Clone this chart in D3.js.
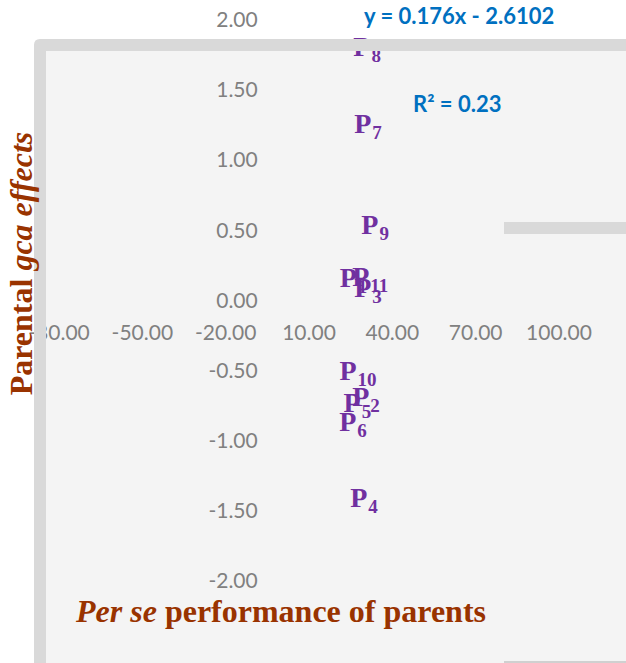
<!DOCTYPE html>
<html>
<head>
<meta charset="utf-8">
<script src="https://cdn.jsdelivr.net/npm/d3@7"></script>
<style>
  html, body { margin: 0; padding: 0; background: #ffffff; }
  svg { display: block; }
</style>
</head>
<body>
<svg id="chart" width="626" height="663"></svg>
<script>
// Parents and their (per se performance, gca effect) pairs
const parentIds = [1, 2, 3, 4, 5, 6, 7, 8, 9, 10, 11];
const perSe     = [26.2, 30.7, 31.4, 30.0, 27.6, 26.0, 31.4, 31.1, 34.0, 27.8, 32.2];
const gcaEffect = [0.15, -0.70, 0.08, -1.42, -0.74, -0.88, 1.25, 1.80, 0.53, -0.51, 0.16];

// Axis ticks
const xTicks = [-80, -50, -20, 10, 40, 70, 100];
const yTicks = [2, 1.5, 1, 0.5, 0, -0.5, -1, -1.5, -2];

// Trendline annotation
const trendEquation = "y = 0.176x - 2.6102";
const trendR2 = "R² = 0.23";

const svg = d3.select("#chart");
const W = 626, H = 663;

const x = d3.scaleLinear().domain([-80, 100]).range([58.5, 558.5]);
const y = d3.scaleLinear().domain([-2, 2]).range([580.5, 19.5]);

const frameGray = "#d9d9d9";
const plotBg = "#f4f4f4";
const tickColor = "#808080";
const titleColor = "#993300";
const pointColor = "#7030a0";
const trendColor = "#0070c0";

// Plot-area background
svg.append("rect")
  .attr("x", 46).attr("y", 51)
  .attr("width", W - 46).attr("height", H - 51)
  .attr("fill", plotBg);

// Axes (labels only, no lines)
const fmt = d => d.toFixed(2);

const xAxis = svg.append("g")
  .attr("transform", `translate(0,${y(0)})`)
  .call(d3.axisBottom(x).tickValues(xTicks).tickFormat(fmt).tickSize(0).tickPadding(25));
xAxis.select(".domain").remove();
xAxis.selectAll("text")
  .attr("dy", "0.71em")
  .attr("font-family", "Lato, 'Open Sans', sans-serif")
  .attr("font-size", 21)
  .attr("fill", tickColor);

const yAxis = svg.append("g")
  .attr("transform", `translate(${x(0)},0)`)
  .call(d3.axisLeft(y).tickValues(yTicks).tickFormat(fmt).tickSize(0).tickPadding(23));
yAxis.select(".domain").remove();
yAxis.selectAll("text")
  .attr("dy", "0.34em")
  .attr("font-family", "Lato, 'Open Sans', sans-serif")
  .attr("font-size", 21)
  .attr("fill", tickColor);

// Parent labels (P with subscript index) centred on each point
const pts = parentIds.map((id, i) => ({ id, px: perSe[i], g: gcaEffect[i] }));
const labels = svg.append("g")
  .attr("font-family", "'Liberation Serif', 'Times New Roman', serif")
  .attr("font-weight", "bold")
  .attr("fill", pointColor);

pts.forEach(p => {
  const t = labels.append("text")
    .attr("x", x(p.px))
    .attr("y", y(p.g) + 8)
    .attr("text-anchor", "middle")
    .attr("font-size", 28);
  t.append("tspan").text("P");
  t.append("tspan").attr("font-size", 19).attr("dy", 6).attr("dx", 1).text(p.id);
});

// Frame border drawn over the plot contents
const frame = d3.path();
frame.moveTo(34, H + 10);
frame.lineTo(34, 45);
frame.quadraticCurveTo(34, 39, 40, 39);
frame.lineTo(W + 10, 39);
frame.lineTo(W + 10, 51);
frame.lineTo(46, 51);
frame.lineTo(46, H + 10);
frame.closePath();
svg.append("path").attr("d", frame.toString()).attr("fill", frameGray);

// Side bar and bottom edge
svg.append("rect").attr("x", 504).attr("y", 222).attr("width", W - 504).attr("height", 12).attr("fill", frameGray);
svg.append("rect").attr("x", 504).attr("y", 661).attr("width", W - 504).attr("height", 2).attr("fill", "#d0d0d0");

// Trendline equation and R²
svg.append("text")
  .attr("x", 364).attr("y", 24)
  .attr("font-family", "Lato, 'Open Sans', sans-serif")
  .attr("font-weight", "bold").attr("font-size", 22)
  .attr("fill", trendColor)
  .text(trendEquation);
svg.append("text")
  .attr("x", 413).attr("y", 112)
  .attr("font-family", "Lato, 'Open Sans', sans-serif")
  .attr("font-weight", "bold").attr("font-size", 22)
  .attr("fill", trendColor)
  .text(trendR2);

// Axis titles
const xt = svg.append("text")
  .attr("x", 281).attr("y", 622)
  .attr("text-anchor", "middle")
  .attr("font-family", "'Liberation Serif', 'Times New Roman', serif")
  .attr("font-weight", "bold").attr("font-size", 32)
  .attr("fill", titleColor);
xt.append("tspan").attr("font-style", "italic").text("Per se");
xt.append("tspan").text(" performance of parents");

const yt = svg.append("text")
  .attr("transform", "translate(32,263.5) rotate(-90)")
  .attr("text-anchor", "middle")
  .attr("font-family", "'Liberation Serif', 'Times New Roman', serif")
  .attr("font-weight", "bold").attr("font-size", 32)
  .attr("fill", titleColor);
yt.append("tspan").text("Parental ");
yt.append("tspan").attr("font-style", "italic").text("gca effects");
</script>
</body>
</html>
